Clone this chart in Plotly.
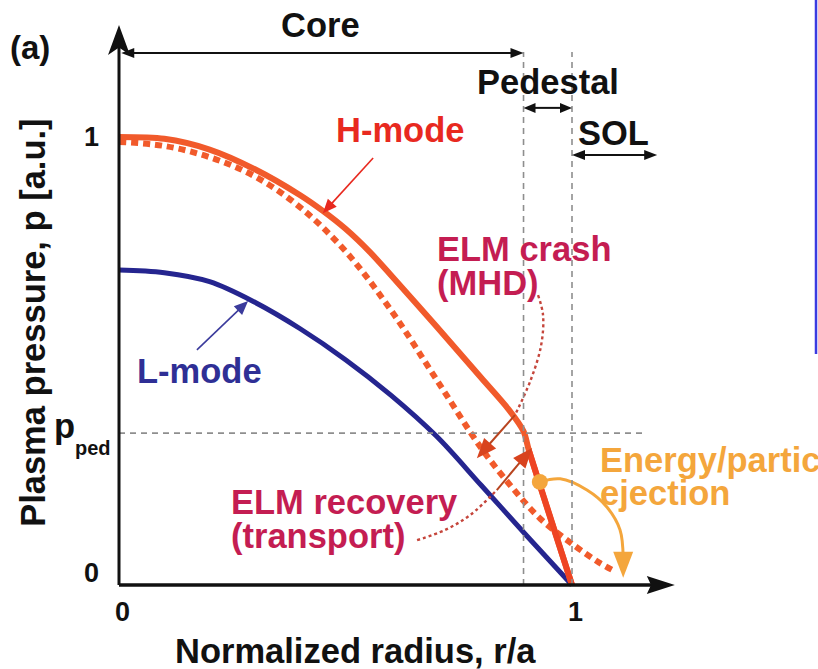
import math
import plotly.graph_objects as go

# ---------------------------------------------------------------------------
# Profiles: normalised radius r/a and plasma pressure p [a.u.]
# ---------------------------------------------------------------------------
# H-mode profile just before an ELM crash (pedestal top at r_ped, p_ped)
h_r = [0.0, 0.1, 0.2, 0.3, 0.4, 0.45, 0.5, 0.554, 0.6, 0.7, 0.8, 0.86, 0.893, 0.905, 1.0]
h_p = [1.0, 0.996, 0.972, 0.928, 0.870, 0.835, 0.795, 0.743, 0.692, 0.578, 0.462, 0.392, 0.343, 0.300, 0.0]

# H-mode profile right after the crash (pedestal collapsed, flux into the SOL)
hc_r = [0.0, 0.1, 0.2, 0.3, 0.4, 0.5, 0.6, 0.7, 0.8, 0.87, 0.93, 1.0, 1.06, 1.09]
hc_p = [0.989, 0.980, 0.955, 0.912, 0.843, 0.745, 0.614, 0.460, 0.305, 0.215, 0.148, 0.092, 0.050, 0.033]

# L-mode profile
l_r = [0.0, 0.1, 0.2, 0.3, 0.4, 0.5, 0.6, 0.7, 0.8, 0.9, 1.0]
l_p = [0.703, 0.697, 0.677, 0.631, 0.572, 0.503, 0.424, 0.333, 0.222, 0.110, 0.0]

# Pedestal top and separatrix
r_ped = 0.893
p_ped = 0.339
r_sep = 1.0

# Tick labels
x_tick_vals = [0, 1]
x_tick_text = ["0", "1"]
y_tick_vals = [0, 1]
y_tick_text = ["0", "1"]

# ---------------------------------------------------------------------------
# Canvas
# ---------------------------------------------------------------------------
W, H = 818, 669
X_RANGE = [-119 / 453, 699 / 453]
Y_RANGE = [-84 / 448, 585 / 448]
SX = W / (X_RANGE[1] - X_RANGE[0])   # px per unit r
SY = H / (Y_RANGE[1] - Y_RANGE[0])   # px per unit p

FONT = "Liberation Sans, Arial, Helvetica, sans-serif"
TS = 34.5  # label size

C_H = "#F15A2B"
C_H_EDGE = "#EE4423"
C_H_TEXT = "#E8291F"
C_L = "#25258F"
C_L_TEXT = "#2F2F95"
C_ELM = "#C41D52"
C_ELM_LINE = "#C5453B"
C_ARROW = "#D8431E"
C_EJECT = "#F4A63C"
C_GRID = "#8E8E8E"

fig = go.Figure()
shapes = []
annotations = []


def head(tip, tail, length, half, color, notch=0.0):
    """Filled arrowhead (data coords) with its point at tip, aimed away from tail."""
    dx = (tip[0] - tail[0]) * SX
    dy = (tip[1] - tail[1]) * SY
    n = math.hypot(dx, dy)
    ux, uy = dx / n, dy / n
    nx, ny = -uy, ux

    def to_data(ox, oy):
        return tip[0] + ox / SX, tip[1] + oy / SY

    b1 = to_data(-ux * length + nx * half, -uy * length + ny * half)
    b2 = to_data(-ux * length - nx * half, -uy * length - ny * half)
    bn = to_data(-ux * length * (1 - notch), -uy * length * (1 - notch))
    path = (f"M{tip[0]},{tip[1]} L{b1[0]},{b1[1]} L{bn[0]},{bn[1]} "
            f"L{b2[0]},{b2[1]} Z")
    shapes.append(dict(type="path", path=path, xref="x", yref="y",
                       fillcolor=color, line=dict(width=0), layer="above"))


def back_off(tip, tail, px):
    """Point px pixels back from tip toward tail."""
    dx = (tip[0] - tail[0]) * SX
    dy = (tip[1] - tail[1]) * SY
    n = math.hypot(dx, dy)
    return tip[0] - dx / n * px / SX, tip[1] - dy / n * px / SY


def seg(p0, p1, color, width, dash=None):
    shapes.append(dict(type="line", xref="x", yref="y",
                       x0=p0[0], y0=p0[1], x1=p1[0], y1=p1[1],
                       line=dict(color=color, width=width, dash=dash),
                       layer="above"))


def arrow(tail, tip, color, width, length, half, notch=0.0, both=False,
          head_color=None):
    hc = head_color or color
    end = back_off(tip, tail, length * (1 - notch) * 0.9)
    start = tail
    if both:
        start = back_off(tail, tip, length * (1 - notch) * 0.9)
        head(tail, tip, length, half, hc, notch)
    seg(start, end, color, width)
    head(tip, tail, length, half, hc, notch)


def text(x, y, s, size, color="#111111", xanchor="center", yanchor="middle",
         angle=0):
    annotations.append(dict(x=x, y=y, xref="x", yref="y", text=s,
                            showarrow=False, xanchor=xanchor, yanchor=yanchor,
                            textangle=angle,
                            font=dict(family=FONT, size=size, color=color,
                                      weight="bold")))


# ---------------------------------------------------------------------------
# Guide lines: pedestal top / separatrix verticals and p_ped horizontal
# ---------------------------------------------------------------------------
for xv in (r_ped, r_sep):
    seg((xv, 0), (xv, 1.19), C_GRID, 1.6, "6px,5px")
seg((0, p_ped), (1.161, p_ped), C_GRID, 1.6, "6px,5px")

# ---------------------------------------------------------------------------
# Profiles
# ---------------------------------------------------------------------------
fig.add_trace(go.Scatter(x=l_r, y=l_p, mode="lines",
                         line=dict(color=C_L, width=5, shape="spline", smoothing=1.0)))
fig.add_trace(go.Scatter(x=hc_r, y=hc_p, mode="lines",
                         line=dict(color=C_H, width=6, dash="7px,5px",
                                   shape="spline", smoothing=1.0)))
fig.add_trace(go.Scatter(x=h_r, y=h_p, mode="lines",
                         line=dict(color=C_H, width=6, shape="spline", smoothing=0.8)))
# steep pedestal gradient region drawn a little redder
fig.add_trace(go.Scatter(x=h_r[-2:], y=h_p[-2:], mode="lines",
                         line=dict(color=C_H_EDGE, width=6)))

# ---------------------------------------------------------------------------
# Axes with arrowheads
# ---------------------------------------------------------------------------
y_tip = (0, 1.25)
x_tip = (1.227, 0)
arrow((0, 0), y_tip, "#111111", 3, 30, 11, notch=0.25)
arrow((0, 0), x_tip, "#111111", 3.5, 28, 9, notch=0.15)

# Region arrows: core / pedestal / SOL
arrow((0.005, 1.1875), (r_ped, 1.1875), "#111111", 2, 13, 5, both=True)
arrow((r_ped, 1.065), (r_sep, 1.065), "#111111", 2, 12, 5, both=True)
arrow((r_sep, 0.96), (1.188, 0.96), "#111111", 2, 13, 5, both=True)

# ---------------------------------------------------------------------------
# Pointers
# ---------------------------------------------------------------------------
arrow((0.561, 0.953), (0.450, 0.830), C_H_TEXT, 1.6, 14, 6)
arrow((0.172, 0.525), (0.285, 0.634), "#3B3B9C", 1.6, 14, 6)

# ELM crash: dotted loop from the label, then arrow onto the relaxed profile
crash_r = [0.925, 0.936, 0.932, 0.909, 0.874]
crash_p = [0.647, 0.603, 0.536, 0.458, 0.379]
fig.add_trace(go.Scatter(x=crash_r, y=crash_p, mode="lines",
                         line=dict(color=C_ELM_LINE, width=2.4, dash="3px,3px",
                                   shape="spline")))
arrow((0.874, 0.379), (0.790, 0.283), "#B8441F", 2, 20, 8, head_color=C_ARROW)

# ELM recovery: dotted lead from the label, then arrow back up to the pedestal
recov_r = [0.658, 0.720, 0.775, 0.834]
recov_p = [0.100, 0.123, 0.156, 0.212]
fig.add_trace(go.Scatter(x=recov_r, y=recov_p, mode="lines",
                         line=dict(color=C_ELM_LINE, width=2.4, dash="3px,3px",
                                   shape="spline")))
arrow((0.834, 0.212), (0.912, 0.306), "#B8441F", 2, 20, 8, head_color=C_ARROW)

# Energy / particle ejection from the pedestal into the SOL
eject_r = [0.929, 0.974, 1.033, 1.077, 1.106, 1.113]
eject_p = [0.230, 0.237, 0.212, 0.174, 0.123, 0.060]
fig.add_trace(go.Scatter(x=eject_r, y=eject_p, mode="lines",
                         line=dict(color=C_EJECT, width=3, shape="spline")))
head((1.113, 0.016), (1.113, 0.080), 26, 10, C_EJECT)
fig.add_trace(go.Scatter(x=[0.929], y=[0.230], mode="markers",
                         marker=dict(color=C_EJECT, size=16)))

# ---------------------------------------------------------------------------
# Text
# ---------------------------------------------------------------------------
text(-0.1965, 1.199, "(a)", 33)
text(0.4437, 1.25, "Core", TS)
text(0.947, 1.1228, "Pedestal", TS)
text(1.0916, 1.01, "SOL", TS)

text(0.6203, 1.0156, "H-mode", TS, C_H_TEXT)
text(0.320, 0.478, "L-mode", TS, C_L_TEXT, xanchor="right")

text(0.6976, 0.750, "ELM crash", TS, C_ELM, xanchor="left")
text(0.6976, 0.674, "(MHD)", TS, C_ELM, xanchor="left")
text(0.2428, 0.185, "ELM recovery", TS, C_ELM, xanchor="left")
text(0.2428, 0.110, "(transport)", TS, C_ELM, xanchor="left")
text(1.057, 0.280, "Energy/particle", TS, C_EJECT, xanchor="left")
text(1.057, 0.205, "ejection", TS, C_EJECT, xanchor="left")

# Tick labels
for v, t in zip(y_tick_vals, y_tick_text):
    text(-0.061, v + (0.027 if v == 0 else 0.0), t, 27)
for v, t in zip(x_tick_vals, x_tick_text):
    text(v + 0.007, -0.060, t, 27)
# p_ped label: main letter plus a smaller subscript
text(-0.120, 0.355, "p", TS)
text(-0.058, 0.306, "ped", 20)

# Axis titles
text(0.523, -0.147, "Normalized radius, r/a", TS)
text(-0.19, 0.585, "Plasma pressure, p [a.u.]", TS, angle=-90)

# Frame edge on the right
shapes.append(dict(type="line", xref="paper", yref="paper",
                   x0=816 / W, x1=816 / W, y0=1, y1=1 - 354 / H,
                   line=dict(color="#3B3BE0", width=2.5)))

fig.update_layout(
    width=W, height=H,
    margin=dict(l=0, r=0, t=0, b=0),
    paper_bgcolor="white", plot_bgcolor="white",
    showlegend=False, hovermode=False,
    xaxis=dict(range=X_RANGE, visible=False, fixedrange=True),
    yaxis=dict(range=Y_RANGE, visible=False, fixedrange=True),
    shapes=shapes, annotations=annotations,
    font=dict(family=FONT),
)

fig.write_html("out.html")
